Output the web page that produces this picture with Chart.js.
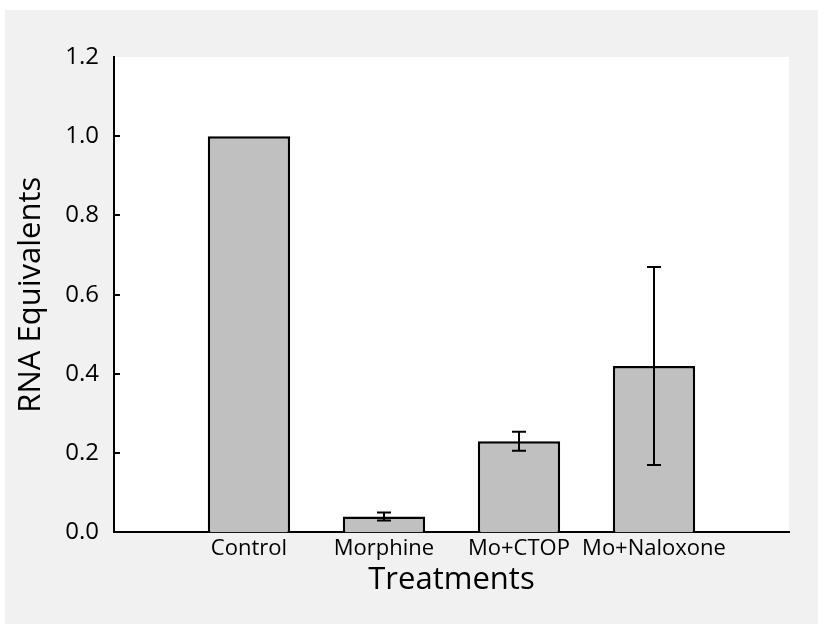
<!DOCTYPE html>
<html>
<head>
<meta charset="utf-8">
<script src="https://cdn.jsdelivr.net/npm/chart.js@4"></script>
<style>
  html, body { margin: 0; padding: 0; background: #ffffff; }
  #wrap { position: absolute; left: 5px; top: 10px; width: 813px; height: 614px; background: #f1f1f1; }
</style>
</head>
<body>
<div id="wrap"><canvas id="rna" width="813" height="614"></canvas></div>
<script>
// categories (empty slots at both ends keep the bars off the axis)
var labels = ['', 'Control', 'Morphine', 'Mo+CTOP', 'Mo+Naloxone', ''];
var rnaValues = [null, 1.0, 0.04, 0.23, 0.42, null];
var rnaError = [null, 0, 0.01, 0.024, 0.25, null];
var yTicks = [0, 0.2, 0.4, 0.6, 0.8, 1.0, 1.2];

var fontFamily = "'Open Sans', 'Noto Sans', sans-serif";

// white plot area + inward y ticks + error bars
var extras = {
    id: 'extras',
    beforeDraw: function(chart) {
        var a = chart.chartArea, ctx = chart.ctx;
        ctx.save();
        ctx.fillStyle = '#ffffff';
        ctx.fillRect(a.left, a.top, a.right - a.left, a.bottom - a.top);
        ctx.restore();
    },
    afterDraw: function(chart) {
        var ctx = chart.ctx, y = chart.scales.y, x = chart.scales.x;
        ctx.save();
        ctx.strokeStyle = '#000';
        ctx.lineWidth = 2;
        yTicks.forEach(function(v) {
            if (v === 0 || v === 1.2) return;
            var py = Math.round(y.getPixelForValue(v));
            ctx.beginPath();
            ctx.moveTo(chart.chartArea.left, py);
            ctx.lineTo(chart.chartArea.left + 6, py);
            ctx.stroke();
        });
        rnaValues.forEach(function(v, i) {
            if (v === null || !rnaError[i]) return;
            var px = Math.round(x.getPixelForValue(i));
            var hi = y.getPixelForValue(v + rnaError[i]);
            var lo = y.getPixelForValue(v - rnaError[i]);
            ctx.beginPath();
            ctx.moveTo(px, hi); ctx.lineTo(px, lo);
            ctx.moveTo(px - 7, hi); ctx.lineTo(px + 7, hi);
            ctx.moveTo(px - 7, lo); ctx.lineTo(px + 7, lo);
            ctx.stroke();
        });
        ctx.restore();
    }
};

new Chart(document.getElementById('rna'), {
    type: 'bar',
    data: {
        labels: labels,
        datasets: [{
            data: rnaValues,
            backgroundColor: '#c0c0c0',
            borderColor: '#000000',
            borderWidth: 2.5,
            barPercentage: 1,
            categoryPercentage: 0.61
        }]
    },
    options: {
        responsive: false,
        animation: false,
        layout: { padding: { top: 47, right: 29, left: 0, bottom: 21 } },
        plugins: {
            legend: { display: false },
            tooltip: { enabled: false }
        },
        scales: {
            x: {
                offset: false,
                grid: { display: false, drawTicks: false },
                border: { color: '#000', width: 2 },
                ticks: {
                    color: '#000', padding: 3, maxRotation: 0, minRotation: 0, autoSkip: false,
                    font: { family: fontFamily, size: 22 }
                },
                title: {
                    display: true, text: 'Treatments', color: '#000',
                    font: { family: fontFamily, size: 31 }, padding: { top: -3, bottom: 4 }
                }
            },
            y: {
                min: 0, max: 1.2,
                grid: { display: false, drawTicks: false },
                border: { color: '#000', width: 2 },
                ticks: {
                    stepSize: 0.2, color: '#000', padding: 15,
                    font: { family: fontFamily, size: 24 },
                    callback: function(v) { return v.toFixed(1); }
                },
                title: {
                    display: true, text: 'RNA Equivalents', color: '#000',
                    font: { family: fontFamily, size: 31 }, padding: { top: 8, bottom: 0 }
                }
            }
        }
    },
    plugins: [extras]
});
</script>
</body>
</html>
